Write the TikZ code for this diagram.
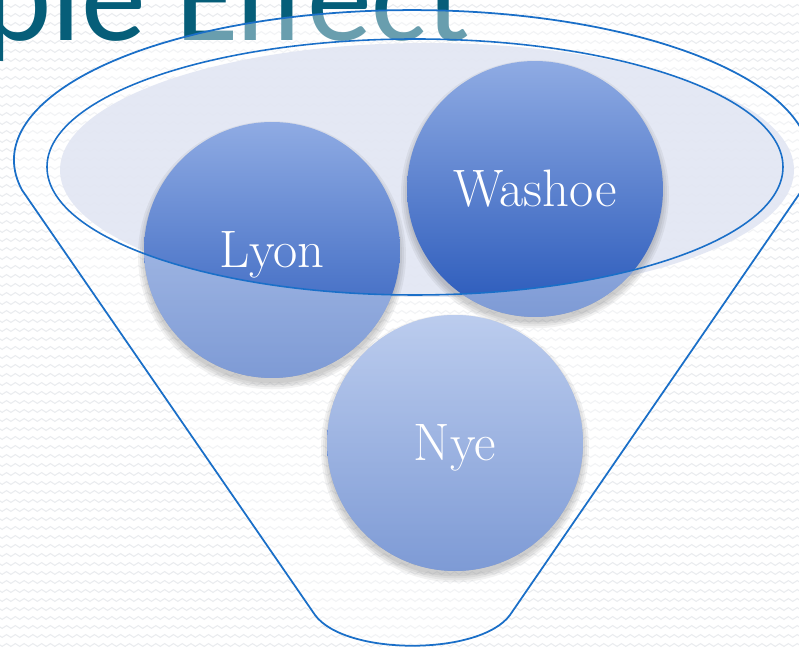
\documentclass[tikz,border=0pt]{standalone}
\usepackage{fontspec}
\usetikzlibrary{decorations.pathmorphing}
\newfontfamily\headfont{Carlito}
\definecolor{rimblue}{RGB}{26,111,200}
\definecolor{headteal}{RGB}{6,94,121}
\definecolor{mouthfill}{RGB}{226,230,243}
\definecolor{waveline}{RGB}{234,236,239}
\definecolor{balltop}{RGB}{143,171,227}
\definecolor{ballbottom}{RGB}{40,88,186}

\begin{document}
\begin{tikzpicture}[x=0.02cm, y=0.02cm,
  rim/.style={draw=rimblue, line width=1pt},
  county/.style={circle, minimum size=5.12cm, inner sep=0pt, top color=balltop, bottom color=ballbottom,
    text=white, font=\fontsize{30}{34}\selectfont, text height=20.5pt, text depth=0pt,
    path picture={\fill[white, opacity=.4, even odd rule] (-1000,-1000) rectangle (1000,1000) (mouth) ellipse [x radius=368, y radius=128];}}]
  \useasboundingbox (0,0) rectangle (799,648);
  \clip (0,0) rectangle (799,648);
  \fill[white] (0,0) rectangle (799,648);
  \foreach \yy in {3,12,...,648}
    \draw[waveline, line width=.6pt, decorate, decoration={snake, segment length=5pt, amplitude=.8pt}] (-5,\yy) -- (805,\yy);
  \node[anchor=base east, inner sep=0pt, text=headteal, font=\headfont\fontsize{74}{80}\selectfont] (heading) at (471,607) {Ripple Effect};

  \coordinate (mouth) at (415,481);
  \path[rim, fill=white, fill opacity=.4] (22,458) arc[start angle=191.5, end angle=-11.5, x radius=398, y radius=150]
    -- (510,33) .. controls (480,-8) and (345,-8) .. (315,33) -- cycle;
  \fill[mouthfill, opacity=.9] (427,478) ellipse [x radius=367, y radius=127];

  \coordinate (lyonpos) at (272,398); \coordinate (washoepos) at (535,459); \coordinate (nyepos) at (455,205);
  \foreach \c in {lyonpos,washoepos,nyepos}
    \foreach \r in {128,130,...,134}
      \fill[black, opacity=.05] ([yshift=-3pt]\c) circle (\r);
  \node[county] (lyon) at (lyonpos) {Lyon};
  \node[county] (washoe) at (washoepos) {Washoe};
  \node[county] (nye) at (nyepos) {Nye};

  \draw[rim, line width=.9pt] (mouth) ellipse [x radius=368, y radius=128];
\end{tikzpicture}
\end{document}
